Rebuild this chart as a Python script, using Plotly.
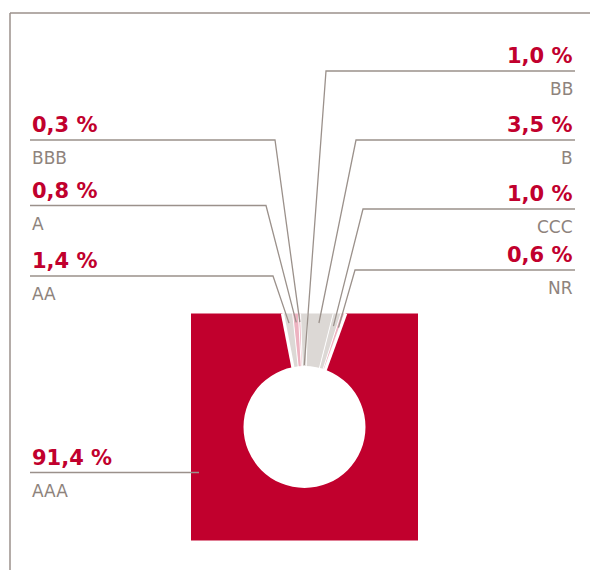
import numpy as np
import plotly.graph_objects as go

# ---- data ----
categories = ["AAA", "AA", "A", "BBB", "BB", "B", "CCC", "NR"]
values = [91.4, 1.4, 0.8, 0.3, 1.0, 3.5, 1.0, 0.6]

# ---- styling / layout (not data) ----
RED = "#C1002D"
GRAY = "#DCD8D5"
PINK = "#EDB3C1"
LINE = "#9B918B"
TXT = "#8E837C"
slice_colors = {"AAA": RED, "AA": GRAY, "A": PINK, "BBB": PINK,
                "BB": GRAY, "B": GRAY, "CCC": GRAY, "NR": PINK}

CX, CY = 304.5, 427.0      # square centre (px)
H = 113.5                  # half side of square
HOLE = 61.0                # hole radius
ROT = -2.0                 # angle where "BB" starts (deg, clockwise from 12 o'clock)

# label placement: side, rule y, inner x of rule, leader radius
label_pos = {
    "AAA": ("left", 472.5, 199, None),
    "AA": ("left", 276, 273, 105),
    "A": ("left", 205.5, 266, 105),
    "BBB": ("left", 140, 275, 105),
    "BB": ("right", 71, 326, 62),
    "B": ("right", 140, 356, 105),
    "CCC": ("right", 209, 363, 105),
    "NR": ("right", 270, 355, 105),
}
LEFT_X, RIGHT_X = 30, 575


def pt(a, r=None):
    t = np.radians(a)
    s, c = np.sin(t), -np.cos(t)
    if r is None:
        r = H / max(abs(s), abs(c))
    return CX + r * s, CY + r * c


def wedge(a1, a2):
    xs, ys = [CX], [CY]
    angs = [a1]
    k = np.floor((a1 - 45) / 90) + 1
    corner = 45 + 90 * k
    while corner < a2:
        angs.append(corner)
        corner += 90
    angs.append(a2)
    for a in angs:
        x, y = pt(a)
        xs.append(x)
        ys.append(y)
    xs.append(CX)
    ys.append(CY)
    return xs, ys


vals = np.array(values)
idx_bb = categories.index("BB")
start0 = ROT - 360 * vals[:idx_bb].sum() / 100.0
bounds = start0 + 360 * np.concatenate([[0], np.cumsum(vals)]) / 100.0

fig = go.Figure()

# slices
for i, cat in enumerate(categories):
    xs, ys = wedge(bounds[i], bounds[i + 1])
    fig.add_trace(go.Scatter(x=xs, y=ys, mode="lines", fill="toself",
                             fillcolor=slice_colors[cat], line=dict(width=0),
                             hoverinfo="skip", showlegend=False))

# separators
for i, a in enumerate(bounds[:-1]):
    w = 3.2 if i in (0, 1) else 1.0
    x2, y2 = pt(a)
    fig.add_trace(go.Scatter(x=[CX, x2], y=[CY, y2], mode="lines",
                             line=dict(color="white", width=w),
                             hoverinfo="skip", showlegend=False))

# hole
fig.add_shape(type="circle", xref="x", yref="y", x0=CX - HOLE, x1=CX + HOLE,
              y0=CY - HOLE, y1=CY + HOLE, fillcolor="white", line=dict(width=0),
              layer="above")

# leader lines and labels
for i, cat in enumerate(categories):
    side, ly, ix, rad = label_pos[cat]
    outer = LEFT_X if side == "left" else RIGHT_X
    xs, ys = [outer, ix], [ly, ly]
    if rad is not None:
        mid = (bounds[i] + bounds[i + 1]) / 2
        ex, ey = pt(mid, rad)
        xs.append(ex)
        ys.append(ey)
    fig.add_trace(go.Scatter(x=xs, y=ys, mode="lines",
                             line=dict(color=LINE, width=1.3),
                             hoverinfo="skip", showlegend=False))
    anchor = "left" if side == "left" else "right"
    txt = f"{values[i]:.1f}".replace(".", ",") + " %"
    fig.add_annotation(x=outer, y=ly - 15, text=txt, showarrow=False,
                       xanchor=anchor, yanchor="middle", xref="x", yref="y",
                       font=dict(family="DejaVu Sans", size=21, color=RED,
                                 weight="bold"))
    fig.add_annotation(x=outer, y=ly + 18, text=cat, showarrow=False,
                       xanchor=anchor, yanchor="middle", xref="x", yref="y",
                       font=dict(family="DejaVu Sans", size=17, color=TXT))

# frame
fig.add_shape(type="line", xref="x", yref="y", x0=10, x1=590, y0=13, y1=13,
              line=dict(color=LINE, width=1.5))
fig.add_shape(type="line", xref="x", yref="y", x0=10, x1=10, y0=13, y1=570,
              line=dict(color=LINE, width=1.5))

fig.update_layout(
    width=590, height=570, margin=dict(l=0, r=0, t=0, b=0),
    paper_bgcolor="white", plot_bgcolor="white",
    xaxis=dict(range=[0, 590], visible=False, fixedrange=True),
    yaxis=dict(range=[570, 0], visible=False, fixedrange=True),
)
fig.write_html("out.html")
